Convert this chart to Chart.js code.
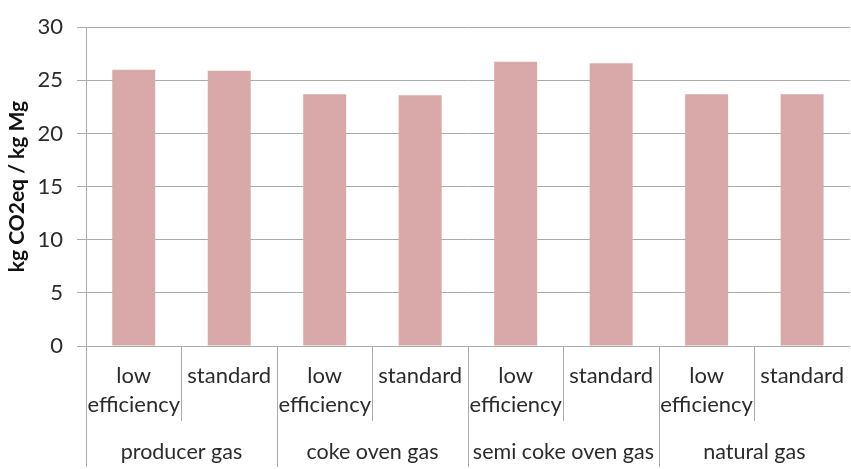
<!DOCTYPE html>
<html>
<head>
<meta charset="utf-8">
<script src="https://cdn.jsdelivr.net/npm/chart.js@4"></script>
<style>
  html, body { margin: 0; padding: 0; overflow: hidden; background: #fff; }
  #wrap { width: 860px; height: 469px; }
</style>
</head>
<body>
<div id="wrap"><canvas id="emissions"></canvas></div>
<script>
// data
var groups = ['producer gas', 'coke oven gas', 'semi coke oven gas', 'natural gas'];
var variants = [['low', 'efficiency'], ['standard']];
var values = [26.0, 25.9, 23.7, 23.6, 26.75, 26.6, 23.7, 23.7];
var yTicks = [0, 5, 10, 15, 20, 25, 30];

var labels = [];
groups.forEach(function (g) {
    variants.forEach(function (v) { labels.push(v); });
});

var gridColor = '#ABABAB';
var textColor = '#2B2B2B';
var fontFamily = 'Lato, "Open Sans", sans-serif';

// draws the separators under the axis and the group names
const groupAxis = {
    id: 'groupAxis',
    afterDraw: function (chart) {
        var x = chart.scales.x;
        var ctx = chart.ctx;
        var half = (x.getPixelForValue(1) - x.getPixelForValue(0)) / 2;
        var top = chart.chartArea.bottom;
        ctx.save();
        ctx.strokeStyle = gridColor;
        ctx.lineWidth = 1;
        for (var i = 0; i < labels.length; i++) {
            var px = Math.round(x.getPixelForValue(i) - half) + 0.5;
            var bottom = (i % variants.length === 0) ? 467 : 421;
            ctx.beginPath();
            ctx.moveTo(px, top);
            ctx.lineTo(px, bottom);
            ctx.stroke();
        }
        ctx.fillStyle = textColor;
        ctx.font = '21.5px ' + fontFamily;
        ctx.textAlign = 'center';
        ctx.textBaseline = 'middle';
        groups.forEach(function (g, gi) {
            var a = x.getPixelForValue(gi * variants.length);
            var b = x.getPixelForValue(gi * variants.length + variants.length - 1);
            ctx.fillText(g, (a + b) / 2, 452);
        });
        ctx.restore();
    }
};

var ctxEmissions = document.getElementById('emissions').getContext('2d');
const emissions = new Chart(ctxEmissions, {
    type: 'bar',
    data: {
        labels: labels,
        datasets: [
            {
                label: 'kg CO2eq / kg Mg',
                data: values,
                backgroundColor: '#D9A8A8',
                borderWidth: 0,
                barPercentage: 0.45,
                categoryPercentage: 1
            }
        ]
    },
    options: {
        responsive: true,
        maintainAspectRatio: false,
        animation: false,
        layout: {
            padding: { top: 19, left: 0, right: 0, bottom: 0 }
        },
        plugins: {
            legend: { display: false },
            tooltip: { enabled: false }
        },
        scales: {
            x: {
                grid: { display: false, drawTicks: false },
                border: { display: false },
                ticks: {
                    color: textColor,
                    font: { family: fontFamily, size: 22, lineHeight: 1.3 },
                    padding: 16,
                    maxRotation: 0,
                    autoSkip: false
                },
                afterFit: function (scale) { scale.height = 123; }
            },
            y: {
                min: 0,
                max: 30,
                afterBuildTicks: function (scale) {
                    scale.ticks = yTicks.map(function (v) { return { value: v }; });
                },
                grid: {
                    color: gridColor,
                    lineWidth: 1,
                    tickLength: 9
                },
                border: { display: true, color: gridColor },
                ticks: {
                    color: textColor,
                    font: { family: fontFamily, size: 22 },
                    padding: 14
                },
                title: {
                    display: true,
                    text: 'kg CO2eq / kg Mg',
                    color: '#111111',
                    font: { family: fontFamily, size: 21, weight: 'bold' },
                    padding: { top: 5, bottom: 0 }
                },
                afterFit: function (scale) { scale.width = 86; }
            }
        }
    },
    plugins: [groupAxis]
});
</script>
</body>
</html>
